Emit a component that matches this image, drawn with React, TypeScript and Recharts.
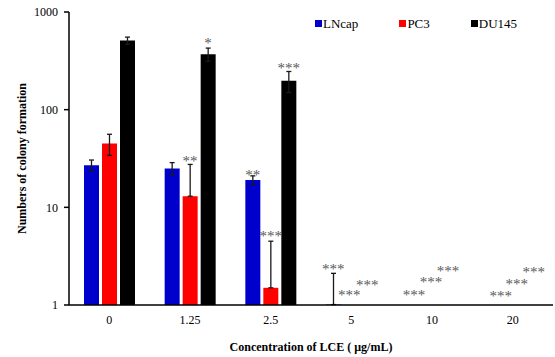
import React from 'react';
import { ComposedChart, Bar, XAxis, YAxis, ErrorBar, ReferenceDot, Legend } from 'recharts';

const categories = ['0', '1.25', '2.5', '5', '10', '20'];
const lncap = [27, 25, 19, 1.01, null, null];
const lncapErr = [[3.5, 3.5], [3.7, 3.7], [2, 2], [0, 1.1], null, null];
const pc3 = [45, 13, 1.5, null, null, null];
const pc3Err = [[11, 11], [0, 14.5], [0, 3], null, null, null];
const du145 = [510, 370, 198, null, null, null];
const du145Err = [[43, 43], [57, 57], [48, 48], null, null, null];

const yTicks = [1, 10, 100, 1000];

// significance marks: category, y value (data space), offset by series, text
const starCats = ['1.25', '1.25', '2.5', '2.5', '2.5', '5', '5', '5', '10', '10', '10', '20', '20', '20'];
const starSeries = ['PC3', 'DU145', 'LNcap', 'PC3', 'DU145', 'LNcap', 'PC3', 'DU145', 'LNcap', 'PC3', 'DU145', 'LNcap', 'PC3', 'DU145'];
const starValues = [31, 500, 22.4, 5.3, 281, 2.45, 1.33, 1.68, 1.33, 1.8, 2.33, 1.3, 1.72, 2.28];
const starTexts = ['**', '*', '**', '***', '***', '***', '***', '***', '***', '***', '***', '***', '***', '***'];
const starDx = [0, 18, -18, 0, 18, -18, -2, 16, -18, -1, 16, -12, 4, 21];

const data = categories.map((c, i) => ({
  cat: c,
  LNcap: lncap[i],
  LNcapErr: lncapErr[i],
  PC3: pc3[i],
  PC3Err: pc3Err[i],
  DU145: du145[i],
  DU145Err: du145Err[i],
}));

const FONT = '"Liberation Serif", "Times New Roman", serif';

const legendItems = [
  { name: 'LNcap', color: '#0000CC' },
  { name: 'PC3', color: '#FF0000' },
  { name: 'DU145', color: '#000000' },
];

const LegendContent = () => (
  <div style={{ display: 'flex', fontFamily: FONT, fontSize: 13, color: '#000', lineHeight: '15px' }}>
    {legendItems.map((it, i) => (
      <div key={it.name} style={{ display: 'flex', alignItems: 'center', marginRight: i < 2 ? 41 : 0 }}>
        <span style={{ display: 'inline-block', width: 7, height: 7, background: it.color, marginRight: 1 }} />
        <span>{it.name}</span>
      </div>
    ))}
  </div>
);

export default function App() {
  return (
    <div style={{ position: 'absolute', left: 0, top: 0, width: 555, height: 357, background: '#fff' }}>
      <ComposedChart
        width={555}
        height={357}
        data={data}
        margin={{ top: 12, right: 2, left: 0, bottom: 0 }}
        barSize={15}
        barGap={3}
      >
        <XAxis
          dataKey="cat"
          height={52}
          tickLine={false}
          axisLine={{ stroke: '#000', strokeWidth: 1.5 }}
          tick={{ fill: '#000', fontSize: 12, fontFamily: FONT }}
          tickMargin={4}
          label={{
            value: 'Concentration of LCE ( μg/mL)',
            position: 'insideBottom',
            offset: 6,
            style: { fontFamily: FONT, fontSize: 12, fontWeight: 'bold', fill: '#000' },
          }}
        />
        <YAxis
          scale="log"
          domain={[1, 1000]}
          ticks={yTicks}
          allowDataOverflow
          width={69}
          tickSize={5}
          tickMargin={6}
          tickLine={{ stroke: '#000', strokeWidth: 1.5 }}
          axisLine={{ stroke: '#000', strokeWidth: 1.5 }}
          tick={{ fill: '#000', fontSize: 12, fontFamily: FONT }}
          label={{
            value: 'Numbers of colony formation',
            angle: -90,
            position: 'insideLeft',
            offset: 0,
            dx: 22,
            style: { fontFamily: FONT, fontSize: 12, fontWeight: 'bold', fill: '#000', textAnchor: 'middle' },
          }}
        />
        <Legend
          layout="horizontal"
          verticalAlign="middle"
          align="center"
          content={<LegendContent />}
          wrapperStyle={{ position: 'absolute', top: 16, left: 315, width: 'auto', height: 'auto' }}
        />
        <Bar dataKey="LNcap" fill="#0000CC" isAnimationActive={false}>
          <ErrorBar dataKey="LNcapErr" width={2.5} stroke="#1a1a1a" strokeWidth={1.3} direction="y" />
        </Bar>
        <Bar dataKey="PC3" fill="#FF0000" isAnimationActive={false}>
          <ErrorBar dataKey="PC3Err" width={2.5} stroke="#1a1a1a" strokeWidth={1.3} direction="y" />
        </Bar>
        <Bar dataKey="DU145" fill="#000000" isAnimationActive={false}>
          <ErrorBar dataKey="DU145Err" width={2.5} stroke="#1a1a1a" strokeWidth={1.3} direction="y" />
        </Bar>
        {starCats.map((c, i) => (
          <ReferenceDot
            key={i}
            x={c}
            y={starValues[i]}
            r={0}
            shape={(p: any) => (
              <text
                x={p.cx + starDx[i]}
                y={p.cy + 7}
                textAnchor="middle"
                fontFamily={FONT}
                fontSize={15}
                fill="#595959"
                data-series={starSeries[i]}
              >
                {starTexts[i]}
              </text>
            )}
          />
        ))}
      </ComposedChart>
    </div>
  );
}
